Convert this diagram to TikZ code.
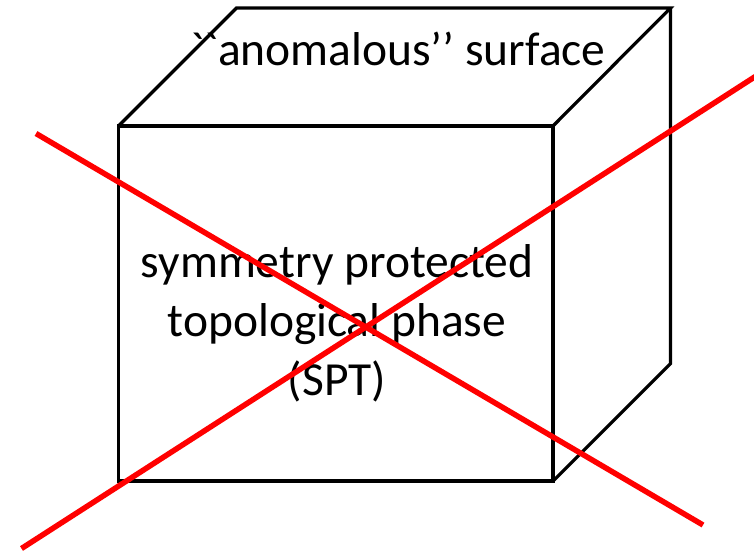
\documentclass[tikz,border=0pt]{standalone}
\usepackage{fontspec}
\newfontfamily\carl{Carlito}
\begin{document}
\begin{tikzpicture}[x=1pt,y=-1pt,
  edge/.style={draw=black,line width=3.2pt,line join=miter},
  cross/.style={draw=red,line width=5.5pt},
  label/.style={font=\carl\fontsize{47.5}{59.5}\selectfont,align=center,inner sep=0pt}]
\useasboundingbox (0,0) rectangle (754,554);
\clip (0,0) rectangle (754,554);
% front face corners
\coordinate (ftl) at (118.5,126);
\coordinate (ftr) at (553,126);
\coordinate (fbl) at (118.5,481);
\coordinate (fbr) at (553,481);
% back corners
\coordinate (btl) at (236.5,8);
\coordinate (btr) at (670.5,8);
\coordinate (bbr) at (670.5,363.5);
% cube
\draw[edge] (ftl) -- (btl) -- (btr) -- (ftr);
\draw[edge] (btr) -- (bbr) -- (fbr);
\draw[edge] (ftl) rectangle (fbr);
% texts
\node[label,anchor=base] (top) at (398,65) {``anomalous’’ surface};
\node[label,anchor=base] (spt1) at (337,277) {symmetry protected};
\node[label,anchor=base] (spt2) at (337,336) {topological phase};
\node[label,anchor=base] (spt3) at (337,395) {(SPT)};
% red cross
\coordinate (r1a) at (36,133.5);
\coordinate (r1b) at (703,525);
\coordinate (r2a) at (21.5,548.5);
\coordinate (r2b) at (760,73.5);
\draw[cross] (r1a) -- (r1b);
\draw[cross] (r2a) -- (r2b);
\end{tikzpicture}
\end{document}
